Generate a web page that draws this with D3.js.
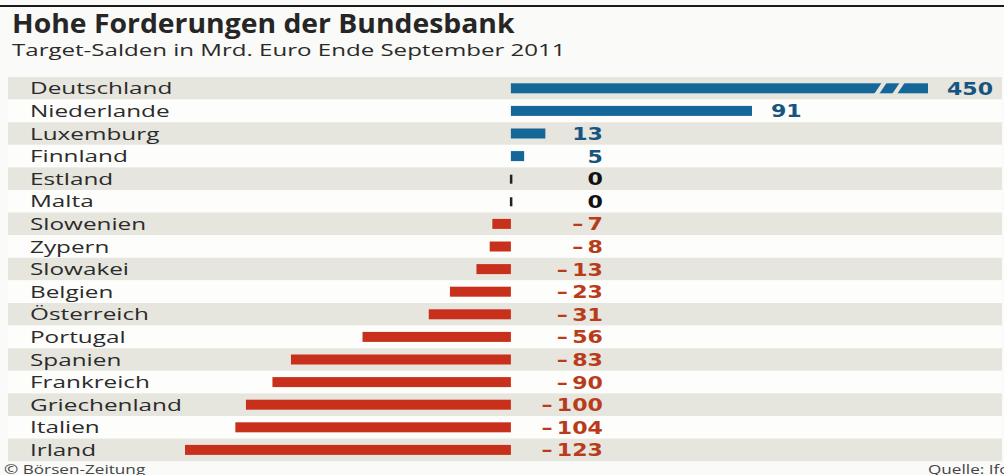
<!DOCTYPE html>
<html>
<head>
<meta charset="utf-8">
<script src="https://cdn.jsdelivr.net/npm/d3@7"></script>
<style>
  html, body { margin: 0; padding: 0; background: #fafaf8; }
  svg { display: block; }
</style>
</head>
<body>
<svg class="chart" width="1004" height="475"></svg>
<script>
var countries = ["Deutschland", "Niederlande", "Luxemburg", "Finnland", "Estland", "Malta",
    "Slowenien", "Zypern", "Slowakei", "Belgien", "Österreich", "Portugal", "Spanien",
    "Frankreich", "Griechenland", "Italien", "Irland"];
var balances = [450, 91, 13, 5, 0, 0, -7, -8, -13, -23, -31, -56, -83, -90, -100, -104, -123];
var titleText = "Hohe Forderungen der Bundesbank";
var subtitleText = "Target-Salden in Mrd. Euro Ende September 2011";
var creditText = "© Börsen-Zeitung";
var sourceText = "Quelle: Ifo";

var W = 1004, H = 475;
var rowTop = 77, rowH = 22.6;
var breakX = 928;     // where the broken Deutschland bar stops
var labelRight = 603; // right edge of small value labels
var stretch = 1.43;   // the original graphic is set in a wide face

var svg = d3.select("svg.chart");

// place a text at (x, y) widened horizontally by s
function placeText(sel, x, y, s) {
    sel.attr("x", 0).attr("y", 0)
        .attr("transform", "translate(" + x + "," + y + ") scale(" + s + ",1)");
}

var xScale = d3.scaleLinear()
    .domain([-123, 91])
    .range([185, 752]);
var capValue = xScale.invert(breakX);

var yScale = d3.scaleBand()
    .domain(countries)
    .range([rowTop, rowTop + rowH * countries.length])
    .padding(0);

// top rule
svg.append("rect")
    .attr("x", 0).attr("y", 5)
    .attr("width", W).attr("height", 2)
    .attr("fill", "#1a1a1a");

svg.append("text")
    .attr("font-family", "Open Sans")
    .attr("font-weight", 700)
    .attr("font-size", 26)
    .attr("fill", "#262626")
    .text(titleText)
    .call(placeText, 12, 33, 1.09);

svg.append("text")
    .attr("font-family", "Open Sans")
    .attr("font-size", 16.5)
    .attr("fill", "#2a2a2a")
    .text(subtitleText)
    .call(placeText, 12, 56, 1.46);

// row stripes
svg.selectAll("rect.stripe")
    .data(countries)
    .enter()
    .append("rect")
    .classed("stripe", true)
    .attr("x", 8)
    .attr("y", function (d) { return yScale(d); })
    .attr("width", W - 10)
    .attr("height", yScale.bandwidth())
    .attr("fill", function (d, i) { return i % 2 === 0 ? "#e6e5de" : "#fdfdfb"; });

svg.selectAll("text.country")
    .data(countries)
    .enter()
    .append("text")
    .classed("country", true)
    .attr("font-family", "Open Sans")
    .attr("font-size", 17)
    .attr("fill", "#2b2b2b")
    .text(function (d) { return d; })
    .each(function (d) {
        d3.select(this).call(placeText, 30, yScale(d) + yScale.bandwidth() / 2 + 6, stretch);
    });

var barH = 10;
var rows = countries.map(function (c, i) { return { country: c, value: balances[i] }; });

function barColor(v) {
    return v > 0 ? "#156699" : "#c9301c";
}

svg.selectAll("rect.bar")
    .data(rows.filter(function (d) { return d.value !== 0; }))
    .enter()
    .append("rect")
    .classed("bar", true)
    .attr("x", function (d) { return xScale(Math.min(0, d.value)); })
    .attr("y", function (d) { return yScale(d.country) + (yScale.bandwidth() - barH) / 2; })
    .attr("width", function (d) {
        var v = Math.min(d.value, capValue);
        return Math.abs(xScale(v) - xScale(0));
    })
    .attr("height", barH)
    .attr("fill", function (d) { return barColor(d.value); });

// zero markers
svg.selectAll("rect.zero")
    .data(rows.filter(function (d) { return d.value === 0; }))
    .enter()
    .append("rect")
    .classed("zero", true)
    .attr("x", xScale(0) - 1)
    .attr("y", function (d) { return yScale(d.country) + (yScale.bandwidth() - barH) / 2 + 1; })
    .attr("width", 2.5)
    .attr("height", barH - 1)
    .attr("fill", "#222");

// break marks on the capped bar
rows.filter(function (d) { return d.value > capValue; }).forEach(function (d) {
    var y0 = yScale(d.country) + (yScale.bandwidth() - barH) / 2 - 1;
    var y1 = y0 + barH + 2;
    var gaps = [breakX - 52, breakX - 34];
    gaps.forEach(function (gx) {
        svg.append("path")
            .attr("d", "M" + (gx + 6) + "," + y0 + "L" + (gx + 11) + "," + y0 +
                "L" + (gx + 3) + "," + y1 + "L" + (gx - 2) + "," + y1 + "Z")
            .attr("fill", "#e6e5de");
    });
});

var valueStretch = 1.3;
svg.selectAll("text.value")
    .data(rows)
    .enter()
    .append("text")
    .classed("value", true)
    .attr("font-family", "DejaVu Sans")
    .attr("font-weight", 700)
    .attr("font-size", 17)
    .attr("fill", function (d) {
        if (d.value > 0) return "#17557f";
        if (d.value < 0) return "#b83c1c";
        return "#111";
    })
    .text(function (d) { return d.value < 0 ? "\u2013\u2009" + Math.abs(d.value) : String(d.value); })
    .each(function (d) {
        var w = this.getComputedTextLength() * valueStretch;
        var barEnd = xScale(Math.min(d.value, capValue));
        var start = labelRight - w;
        if (d.value > 0 && barEnd + 18 + w > labelRight) {
            start = barEnd + 19;
        }
        d3.select(this).call(placeText, start,
            yScale(d.country) + yScale.bandwidth() / 2 + 6.5, valueStretch);
    });

svg.append("text")
    .attr("font-family", "Open Sans")
    .attr("font-size", 12)
    .attr("fill", "#444")
    .text(creditText)
    .call(placeText, 4, 474, stretch);

svg.append("text")
    .attr("font-family", "Open Sans")
    .attr("font-size", 12)
    .attr("fill", "#444")
    .text(sourceText)
    .call(placeText, 928, 474, stretch);
</script>
</body>
</html>
